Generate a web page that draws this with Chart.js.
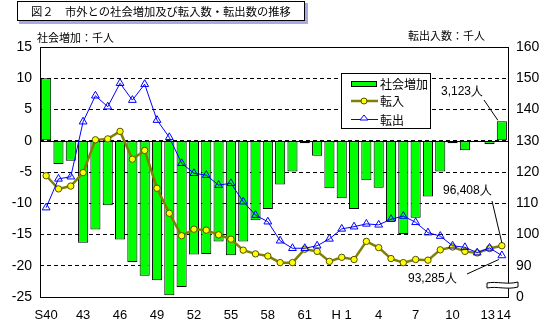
<!DOCTYPE html>
<html>
<head>
<meta charset="utf-8">
<script src="https://cdn.jsdelivr.net/npm/chart.js@4.4.1/dist/chart.umd.min.js"></script>
<style>
  html, body { margin: 0; padding: 0; background: #fff; }
  #wrap { position: relative; width: 546px; height: 329px; }
</style>
</head>
<body>
<div id="wrap"><canvas id="c"></canvas></div>
<script>
// years S40..H14, shown as axis labels
const yearLabels = ['S40','41','42','43','44','45','46','47','48','49','50','51','52','53','54','55','56','57','58','59','60','61','62','63',
  'H 1','2','3','4','5','6','7','8','9','10','11','12','13','14'];
const shownTicks = [0,3,6,9,12,15,18,21,24,27,30,33,36,37];
// 社会増加 (thousand people)
const socialIncrease = [10.0,-3.7,-3.2,-16.3,-14.2,-10.3,-15.8,-19.4,-21.6,-22.3,-24.7,-23.4,-18.2,-18.1,-16.1,-18.3,-16.1,-12.7,-10.9,-7.0,
  -4.9,-0.4,-2.4,-7.6,-9.2,-10.9,-6.3,-7.5,-12.9,-14.9,-12.3,-8.9,-4.9,-0.4,-1.5,-0.2,-0.5,3.123];
// 転入 (thousand people)
const inflow = [118.8,114.6,115.5,119.8,130.3,130.6,133.0,124.1,126.9,114.8,106.8,99.6,101.7,101.4,99.9,98.5,95.0,93.8,93.1,91.0,
  91.0,95.3,94.6,91.4,92.7,92.0,97.8,95.8,92.3,91.0,92.0,91.8,95.1,96.0,94.6,94.1,95.5,96.408];
// 転出 (thousand people)
const outflow = [108.6,117.8,118.5,136.1,144.4,140.9,148.4,143.0,148.1,136.6,131.1,122.8,119.6,119.0,115.8,116.4,110.5,106.2,104.1,98.0,
  95.6,95.6,96.4,98.6,101.8,102.5,103.4,103.1,104.9,105.9,103.9,100.6,99.5,96.4,95.9,94.2,95.7,93.285];
const seriesNames = ['社会増加','転入','転出'];
const title = '図２　市外との社会増加及び転入数・転出数の推移';
const leftTitle = '社会増加：千人';
const rightTitle = '転出入数：千人';
const notes = ['3,123人','96,408人','93,285人'];

const JP = "'Noto Sans CJK JP', sans-serif";
const NUM = "'Liberation Sans', Arial, sans-serif";

const extras = {
  id: 'extras',
  beforeDatasetsDraw(chart) {
    const ctx = chart.ctx, y = chart.scales.y, a = chart.chartArea;
    ctx.save();
    ctx.strokeStyle = '#000';
    ctx.lineWidth = 1;
    ctx.beginPath();
    ctx.moveTo(a.left, Math.round(y.getPixelForValue(0)) + 0.5);
    ctx.lineTo(a.right, Math.round(y.getPixelForValue(0)) + 0.5);
    ctx.stroke();
    ctx.restore();
  },
  afterDraw(chart) {
    const ctx = chart.ctx, a = chart.chartArea;
    ctx.save();
    // frame
    ctx.strokeStyle = '#000';
    ctx.lineWidth = 1;
    ctx.strokeRect(Math.round(a.left) + 0.5, Math.round(a.top) + 0.5, Math.round(a.right - a.left), Math.round(a.bottom - a.top));

    // title box with shadow
    ctx.fillStyle = '#a8a8e8';
    ctx.fillRect(19, 3, 289, 21);
    ctx.fillStyle = '#fff';
    ctx.fillRect(17, 1, 288, 20);
    ctx.strokeStyle = '#000';
    ctx.strokeRect(17.5, 1.5, 287, 19);
    ctx.fillStyle = '#000';
    ctx.font = '11.3px ' + JP;
    ctx.textBaseline = 'middle';
    ctx.textAlign = 'left';
    ctx.fillText(title, 31, 11.5);

    // axis titles
    ctx.font = '11px ' + JP;
    ctx.fillText(leftTitle, 37, 38);
    ctx.fillText(rightTitle, 408, 36);

    // legend
    ctx.fillStyle = '#fff';
    ctx.fillRect(341, 73, 90, 56);
    ctx.strokeStyle = '#000';
    ctx.strokeRect(341.5, 73.5, 89, 55);
    const ds = chart.data.datasets;
    ctx.fillStyle = ds[0].backgroundColor;
    ctx.fillRect(351, 81, 26, 5);
    ctx.strokeRect(351.5, 81.5, 25, 5);
    ctx.strokeStyle = ds[1].borderColor;
    ctx.lineWidth = 2.5;
    ctx.beginPath(); ctx.moveTo(351, 101); ctx.lineTo(378, 101); ctx.stroke();
    ctx.fillStyle = ds[1].pointBackgroundColor;
    ctx.strokeStyle = ds[1].pointBorderColor;
    ctx.lineWidth = 1;
    ctx.beginPath(); ctx.arc(364, 101, 3, 0, Math.PI * 2); ctx.fill(); ctx.stroke();
    ctx.strokeStyle = ds[2].borderColor;
    ctx.beginPath(); ctx.moveTo(351, 119.5); ctx.lineTo(378, 119.5); ctx.stroke();
    ctx.beginPath(); ctx.moveTo(364, 115); ctx.lineTo(368, 120); ctx.lineTo(360, 120); ctx.closePath();
    ctx.fillStyle = '#fff'; ctx.fill(); ctx.stroke();
    ctx.fillStyle = '#000';
    ctx.font = '12px ' + JP;
    ctx.fillText(seriesNames[0], 380, 84);
    ctx.fillText(seriesNames[1], 380, 101.5);
    ctx.fillText(seriesNames[2], 380, 120);

    // value notes for the last year
    const last = yearLabels.length - 1;
    const pBar = chart.getDatasetMeta(0).data[last];
    const pIn = chart.getDatasetMeta(1).data[last];
    const pOut = chart.getDatasetMeta(2).data[last];
    ctx.font = '12px ' + NUM;
    ctx.fillText(notes[0], 441, 92);
    ctx.fillText(notes[1], 443, 191);
    ctx.fillText(notes[2], 408, 279);
    ctx.strokeStyle = '#000';
    ctx.lineWidth = 1;
    ctx.beginPath();
    ctx.moveTo(484, 100); ctx.lineTo(pBar.x - 4, pBar.y - 1);
    ctx.moveTo(492, 201); ctx.lineTo(pIn.x, pIn.y - 3);
    ctx.moveTo(467, 274); ctx.lineTo(pOut.x - 3, pOut.y + 4);
    ctx.stroke();

    // axis break mark on the right axis
    ctx.fillStyle = '#fff';
    ctx.beginPath();
    ctx.moveTo(487, 283);
    ctx.bezierCurveTo(497, 281, 507, 285, 518, 282);
    ctx.lineTo(518, 287);
    ctx.bezierCurveTo(507, 290, 497, 286, 487, 288);
    ctx.closePath();
    ctx.fill();
    ctx.stroke();
    ctx.restore();
  }
};

new Chart(document.getElementById('c'), {
  data: {
    labels: yearLabels,
    datasets: [
      {
        type: 'bar', label: seriesNames[0], data: socialIncrease, yAxisID: 'y', order: 3,
        backgroundColor: '#00ff00', borderColor: '#000', borderWidth: 1, borderSkipped: false,
        barPercentage: 0.82, categoryPercentage: 1
      },
      {
        type: 'line', label: seriesNames[1], data: inflow, yAxisID: 'y2', order: 2,
        borderColor: '#808000', borderWidth: 2.5, tension: 0,
        pointStyle: 'circle', pointRadius: 3.2, pointBackgroundColor: '#ffff00', pointBorderColor: '#505000', pointBorderWidth: 1
      },
      {
        type: 'line', label: seriesNames[2], data: outflow, yAxisID: 'y2', order: 1,
        borderColor: '#0000ff', borderWidth: 1, tension: 0,
        pointStyle: 'triangle', pointRadius: 4.5, pointBackgroundColor: 'rgba(255,255,255,0)', pointBorderColor: '#0000ff', pointBorderWidth: 1
      }
    ]
  },
  options: {
    responsive: true,
    maintainAspectRatio: false,
    animation: false,
    layout: { padding: { top: 47, left: 0, right: 0, bottom: 0 } },
    plugins: { legend: { display: false }, tooltip: { enabled: false } },
    scales: {
      x: {
        offset: true,
        grid: { display: false },
        border: { display: false },
        afterFit: s => { s.height = 32; },
        ticks: {
          autoSkip: false, maxRotation: 0, padding: 3, color: '#000',
          font: { family: NUM, size: 13 },
          callback: (v, i) => {
            if (!shownTicks.includes(i)) return '';
            if (i === 36) return yearLabels[i] + ' ';
            if (i === 37) return ' ' + yearLabels[i];
            return yearLabels[i];
          }
        }
      },
      y: {
        position: 'left', min: -25, max: 15,
        afterFit: s => { s.width = 40; },
        grid: { color: '#000', lineWidth: 1, drawTicks: false },
        border: { display: false, dash: [4, 3] },
        ticks: { stepSize: 5, padding: 8, color: '#000', font: { family: NUM, size: 14 } }
      },
      y2: {
        position: 'right', min: 80, max: 160,
        afterFit: s => { s.width = 38; },
        grid: { display: false, drawTicks: false },
        border: { display: false },
        ticks: {
          stepSize: 10, padding: 8, color: '#000', font: { family: NUM, size: 14 },
          callback: v => v === 80 ? '0' : v
        }
      }
    }
  },
  plugins: [extras]
});
</script>
</body>
</html>
